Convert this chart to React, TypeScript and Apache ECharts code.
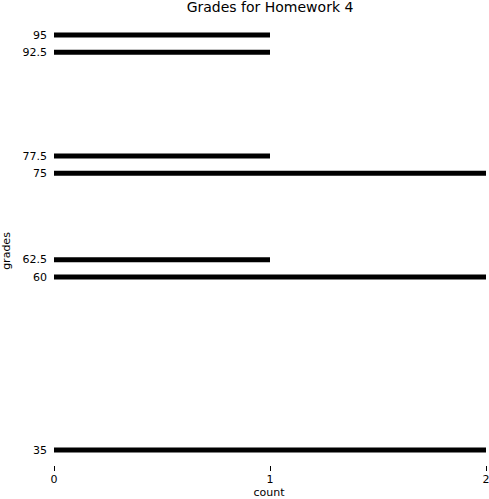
import React, { useEffect, useRef } from "react";
import * as echarts from "echarts";

const grades = [95, 92.5, 77.5, 75, 62.5, 60, 35];
const counts = [1, 1, 1, 2, 1, 2, 2];
const xTicks = [0, 1, 2];

export default function App() {
  const ref = useRef<HTMLDivElement>(null);
  useEffect(() => {
    document.body.style.margin = "0";
    if (!ref.current) return;
    const chart = echarts.init(ref.current, undefined, { renderer: "svg" });
    const font = "'DejaVu Sans', 'Liberation Sans', sans-serif";
    chart.setOption({
      animation: false,
      backgroundColor: "#ffffff",
      title: {
        text: "Grades for Homework 4",
        left: 270,
        top: 0,
        padding: 0,
        textAlign: "center",
        textStyle: { fontFamily: font, fontSize: 14, fontWeight: "normal", color: "#000" },
      },
      grid: {
        left: 54,
        right: 3,
        top: 35,
        bottom: 49,
        containLabel: false,
        outerBoundsMode: "none",
      },
      xAxis: {
        type: "value",
        min: xTicks[0],
        max: xTicks[xTicks.length - 1],
        interval: 1,
        offset: 16,
        axisLine: { show: false },
        axisTick: { show: true, length: 5, lineStyle: { color: "#000", width: 1 } },
        axisLabel: { fontFamily: font, fontSize: 11, color: "#000", margin: 8 },
        splitLine: { show: false },
      },
      yAxis: {
        type: "value",
        min: 35,
        max: 95,
        interval: 2.5,
        axisLine: { show: false },
        axisTick: { show: false },
        axisLabel: {
          fontFamily: font,
          fontSize: 11,
          color: "#000",
          margin: 7,
          formatter: (v: number) => (grades.includes(v) ? String(v) : ""),
        },
        splitLine: { show: false },
      },
      graphic: [
        {
          type: "text",
          x: 6,
          y: 251,
          rotation: Math.PI / 2,
          style: {
            text: "grades",
            fontFamily: font,
            fontSize: 11,
            fill: "#000",
            align: "center",
            verticalAlign: "middle",
          },
        },
        {
          type: "text",
          x: 269,
          y: 492,
          style: {
            text: "count",
            fontFamily: font,
            fontSize: 11,
            fill: "#000",
            align: "center",
            verticalAlign: "middle",
          },
        },
      ],
      series: [
        {
          type: "custom",
          data: grades.map((g, i) => [counts[i], g]),
          encode: { x: 0, y: 1 },
          renderItem: (params: any, api: any) => {
            const c = api.value(0);
            const g = api.value(1);
            const start = api.coord([0, g]);
            const end = api.coord([c, g]);
            return {
              type: "rect",
              shape: { x: start[0], y: start[1] - 2.5, width: end[0] - start[0], height: 5 },
              style: { fill: "#000" },
            };
          },
        },
      ],
    });
    return () => chart.dispose();
  }, []);
  return <div ref={ref} style={{ width: 489, height: 499 }} />;
}
